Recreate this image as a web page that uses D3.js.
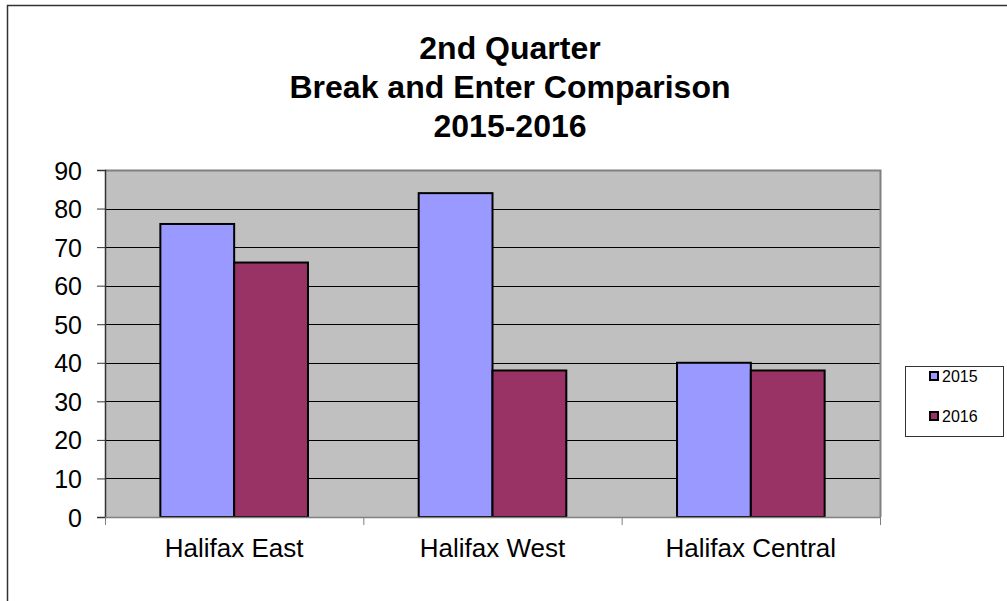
<!DOCTYPE html>
<html>
<head>
<meta charset="utf-8">
<script src="https://cdn.jsdelivr.net/npm/d3@7"></script>
<style>
  body { margin: 0; background: #fff; }
  svg { display: block; font-family: "Liberation Sans", Arial, sans-serif; }
</style>
</head>
<body>
<svg id="chart" width="1007" height="601"></svg>
<script>
"use strict";

var categories = ["Halifax East", "Halifax West", "Halifax Central"];
var seriesNames = ["2015", "2016"];
var values2015 = [76, 84, 40];
var values2016 = [66, 38, 38];
var yTicks = [0, 10, 20, 30, 40, 50, 60, 70, 80, 90];
var titleLines = ["2nd Quarter", "Break and Enter Comparison", "2015-2016"];
var colors = ["#9999FF", "#993366"];

var svg = d3.select("#chart");

// outer chart border (runs off right/bottom edge)
svg.append("rect")
   .attr("x", 7.5).attr("y", 5.5)
   .attr("width", 1020).attr("height", 620)
   .attr("fill", "none").attr("stroke", "#333").attr("stroke-width", 1.5);

var plot = {left: 105, top: 170, right: 880, bottom: 517};

var x = d3.scaleBand()
  .domain(categories)
  .range([plot.left, plot.right]);

var y = d3.scaleLinear()
  .domain([0, 90])
  .range([plot.bottom, plot.top]);

// gap width 150%: each bar = band / 3.5, centred in the band
var bw = x.bandwidth();
var inner = d3.scaleBand()
  .domain(seriesNames)
  .range([bw * 0.75 / 3.5, bw * 2.75 / 3.5]);

// plot background
svg.append("rect")
   .attr("x", plot.left).attr("y", plot.top)
   .attr("width", plot.right - plot.left).attr("height", plot.bottom - plot.top)
   .attr("fill", "#C0C0C0");

// gridlines
svg.append("g")
   .selectAll("line")
   .data(yTicks.filter(d => d > 0 && d < 90))
   .enter().append("line")
   .attr("x1", plot.left).attr("x2", plot.right)
   .attr("y1", d => Math.round(y(d)) + 0.5).attr("y2", d => Math.round(y(d)) + 0.5)
   .attr("stroke", "#000").attr("stroke-width", 1);

// plot border top/right, grey
svg.append("path")
   .attr("d", `M${plot.left},${plot.top + 0.5}H${plot.right + 0.5}V${plot.bottom}`)
   .attr("fill", "none").attr("stroke", "#808080").attr("stroke-width", 2);

// bars
var rows = categories.map((c, i) => ({cat: c, vals: [values2015[i], values2016[i]]}));
var groups = svg.append("g")
  .selectAll("g")
  .data(rows)
  .enter().append("g")
  .attr("transform", d => `translate(${x(d.cat)},0)`);

groups.selectAll("rect")
  .data(d => d.vals.map((v, j) => ({name: seriesNames[j], v: v, j: j})))
  .enter().append("rect")
  .attr("x", d => inner(d.name))
  .attr("y", d => y(d.v))
  .attr("width", inner.bandwidth())
  .attr("height", d => y(0) - y(d.v))
  .attr("fill", d => colors[d.j])
  .attr("stroke", "#000").attr("stroke-width", 2);

// y axis
var yAxis = svg.append("g")
  .attr("transform", `translate(${plot.left},0)`)
  .call(d3.axisLeft(y).tickValues(yTicks).tickSize(8).tickPadding(15).tickFormat(d3.format("d")));
yAxis.select(".domain").attr("stroke", "#333").attr("stroke-width", 1.5);
yAxis.selectAll(".tick line").attr("stroke", "#333");
yAxis.selectAll(".tick text")
  .attr("font-size", 25).attr("fill", "#000").attr("dy", "0.36em")
  .attr("font-family", "'Liberation Sans', Arial, sans-serif");

// x axis
svg.append("line")
   .attr("x1", plot.left).attr("x2", plot.right + 1)
   .attr("y1", plot.bottom + 0.5).attr("y2", plot.bottom + 0.5)
   .attr("stroke", "#808080").attr("stroke-width", 1.5);
var boundaries = categories.map(c => x(c)).concat([plot.right]);
svg.append("g").selectAll("line")
   .data(boundaries)
   .enter().append("line")
   .attr("x1", d => d + 0.5).attr("x2", d => d + 0.5)
   .attr("y1", plot.bottom).attr("y2", plot.bottom + 8)
   .attr("stroke", "#808080");
svg.append("g").selectAll("text")
   .data(categories)
   .enter().append("text")
   .attr("x", d => x(d) + x.bandwidth() / 2)
   .attr("y", 557)
   .attr("text-anchor", "middle")
   .attr("font-size", 26)
   .text(d => d);

// title
svg.append("text")
   .attr("text-anchor", "middle")
   .attr("font-size", 32).attr("font-weight", "bold")
   .selectAll("tspan")
   .data(titleLines)
   .enter().append("tspan")
   .attr("x", 510)
   .attr("y", (d, i) => 59 + i * 39)
   .text(d => d);

// legend
var legend = svg.append("g");
legend.append("rect")
  .attr("x", 905.5).attr("y", 366.5)
  .attr("width", 98).attr("height", 70)
  .attr("fill", "#fff").attr("stroke", "#333");
var items = legend.selectAll("g.item")
  .data(seriesNames)
  .enter().append("g")
  .attr("transform", (d, i) => `translate(930,${376 + i * 40})`);
items.append("rect")
  .attr("x", 0).attr("y", -4)
  .attr("width", 8).attr("height", 8)
  .attr("fill", (d, i) => colors[i])
  .attr("stroke", "#000").attr("stroke-width", 2);
items.append("text")
  .attr("x", 12).attr("y", 6)
  .attr("font-size", 16)
  .text(d => d);
</script>
</body>
</html>
